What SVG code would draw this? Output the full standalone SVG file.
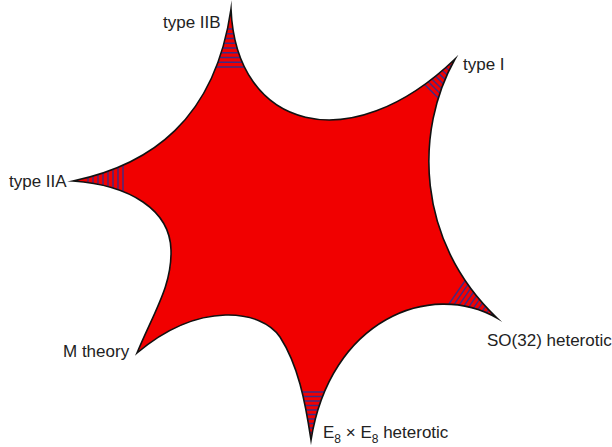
<svg xmlns="http://www.w3.org/2000/svg" width="612" height="447" viewBox="0 0 612 447">
<style>
.lbl{font-family:"Liberation Sans",Arial,sans-serif;font-size:17px;fill:#222}
.sub{font-size:12px}
.hatch line{stroke:#3d2b85;stroke-width:1.4}
</style>
<defs>
<path id="star" d="M231,9 C236,130 350,160 455,59 C415,130 415,240 497,318 C430,280 330,320 311,440 C305,400 298,365 280,337 C262,310 200,300 137,353 C155,310 172,285 171,250 C170,210 130,185 73,181 C150,165 215,120 231,9 Z"/>
<clipPath id="clip"><use href="#star"/></clipPath>
</defs>
<rect width="612" height="447" fill="#fff"/>
<g id="moduli-space">
<use href="#star" fill="#f10000"/>
<g class="hatch" clip-path="url(#clip)">
<g id="hatch-IIB">
<line x1="190" y1="29" x2="280" y2="29"/><line x1="190" y1="33.75" x2="280" y2="33.75"/><line x1="190" y1="38.5" x2="280" y2="38.5"/><line x1="190" y1="43.25" x2="280" y2="43.25"/><line x1="190" y1="48" x2="280" y2="48"/><line x1="190" y1="52.75" x2="280" y2="52.75"/><line x1="190" y1="57.5" x2="280" y2="57.5"/><line x1="190" y1="62.25" x2="280" y2="62.25"/><line x1="190" y1="67" x2="280" y2="67"/>
</g>
<g id="hatch-IIA">
<line x1="88" y1="140" x2="88" y2="220"/><line x1="93" y1="140" x2="93" y2="220"/><line x1="98" y1="140" x2="98" y2="220"/><line x1="103" y1="140" x2="103" y2="220"/><line x1="108" y1="140" x2="108" y2="220"/><line x1="113" y1="140" x2="113" y2="220"/><line x1="118" y1="140" x2="118" y2="220"/><line x1="123" y1="140" x2="123" y2="220"/>
</g>
<g id="hatch-E8">
<line x1="280" y1="392" x2="345" y2="392"/><line x1="280" y1="396.5" x2="345" y2="396.5"/><line x1="280" y1="401" x2="345" y2="401"/><line x1="280" y1="405.5" x2="345" y2="405.5"/><line x1="280" y1="410" x2="345" y2="410"/><line x1="280" y1="414.5" x2="345" y2="414.5"/><line x1="280" y1="419" x2="345" y2="419"/><line x1="280" y1="423.5" x2="345" y2="423.5"/><line x1="280" y1="428" x2="345" y2="428"/><line x1="280" y1="432.5" x2="345" y2="432.5"/>
</g>
<g id="hatch-I" transform="translate(455,59) rotate(134.6)">
<line x1="8" y1="-30" x2="8" y2="30"/><line x1="12.5" y1="-30" x2="12.5" y2="30"/><line x1="17" y1="-30" x2="17" y2="30"/><line x1="21.5" y1="-30" x2="21.5" y2="30"/><line x1="26" y1="-30" x2="26" y2="30"/><line x1="30.5" y1="-30" x2="30.5" y2="30"/><line x1="35" y1="-30" x2="35" y2="30"/><line x1="39.5" y1="-30" x2="39.5" y2="30"/>
</g>
<g id="hatch-SO32" transform="translate(497,318) rotate(-145.2)">
<line x1="7" y1="-30" x2="7" y2="30"/><line x1="11.5" y1="-30" x2="11.5" y2="30"/><line x1="16" y1="-30" x2="16" y2="30"/><line x1="20.5" y1="-30" x2="20.5" y2="30"/><line x1="25" y1="-30" x2="25" y2="30"/><line x1="29.5" y1="-30" x2="29.5" y2="30"/><line x1="34" y1="-30" x2="34" y2="30"/><line x1="38.5" y1="-30" x2="38.5" y2="30"/><line x1="43" y1="-30" x2="43" y2="30"/><line x1="47.5" y1="-30" x2="47.5" y2="30"/>
</g>
</g>
<use href="#star" fill="none" stroke="#111" stroke-width="1.6" stroke-linejoin="miter" stroke-miterlimit="20"/>
</g>
<g id="label-IIB"><text class="lbl" x="163" y="28">type IIB</text></g>
<g id="label-I"><text class="lbl" x="463" y="70">type I</text></g>
<g id="label-IIA"><text class="lbl" x="9" y="187">type IIA</text></g>
<g id="label-M"><text class="lbl" x="63" y="357">M theory</text></g>
<g id="label-SO32"><text class="lbl" x="487" y="346">SO(32) heterotic</text></g>
<g id="label-E8"><text class="lbl" x="323" y="438">E<tspan class="sub" dy="5">8</tspan><tspan dy="-5"> × E</tspan><tspan class="sub" dy="5">8</tspan><tspan dy="-5"> heterotic</tspan></text></g>
</svg>
